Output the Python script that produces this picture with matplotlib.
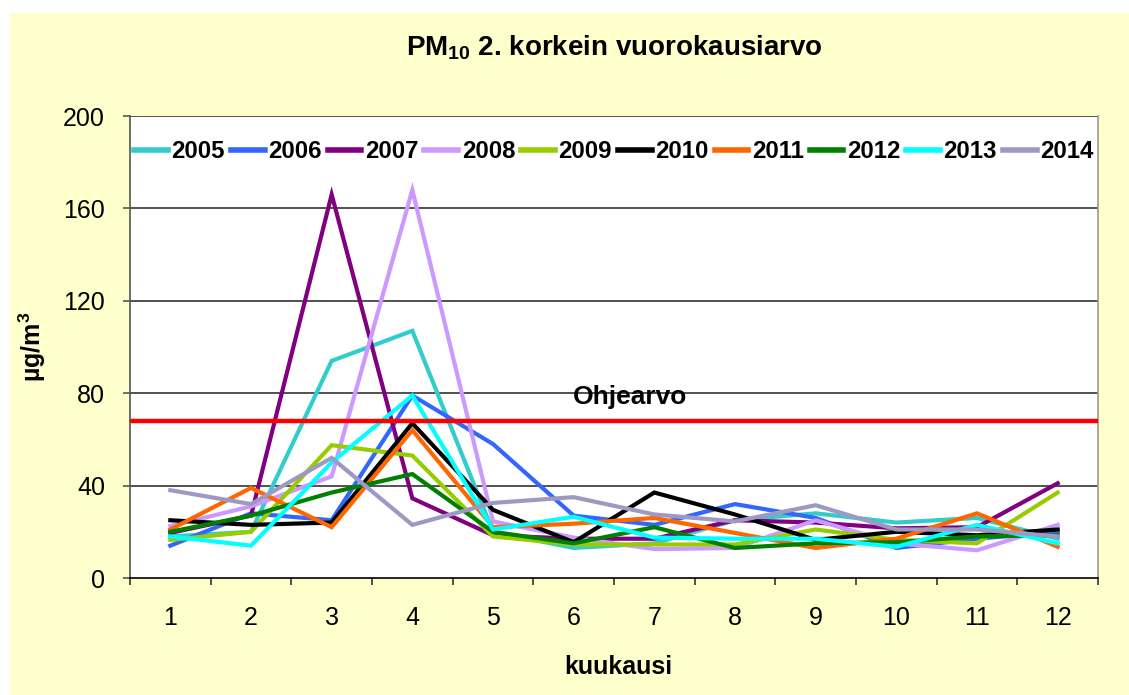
import matplotlib
matplotlib.use("Agg")
import matplotlib.pyplot as plt
from matplotlib.patches import Rectangle

plt.rcParams['font.family'] = ['Liberation Sans', 'DejaVu Sans']
plt.rcParams['mathtext.fontset'] = 'custom'
plt.rcParams['mathtext.rm'] = 'Liberation Sans:bold'
plt.rcParams['mathtext.bf'] = 'Liberation Sans:bold'
plt.rcParams['mathtext.it'] = 'Liberation Sans:bold'

months = [1, 2, 3, 4, 5, 6, 7, 8, 9, 10, 11, 12]
years = ["2005", "2006", "2007", "2008", "2009", "2010", "2011", "2012", "2013", "2014"]

v2005 = [18, 20, 94, 107, 20, 13, 15, 25, 28, 24, 26, 17]
v2006 = [14, 28, 25, 79, 58, 27, 23, 32, 26, 13, 17, 20]
v2007 = [19.5, 27, 166, 34.5, 18.5, 17, 17, 25, 24, 21.5, 22, 41]
v2008 = [22.5, 31, 44, 168, 24.5, 17.5, 12.5, 13, 25, 15, 12, 23]
v2009 = [16.5, 20, 57.5, 53, 18, 14.5, 14.5, 14.5, 21, 16.5, 15, 37]
v2010 = [25, 23, 24, 67, 29.5, 15.5, 37, 27.5, 16.5, 20, 18.5, 21]
v2011 = [21, 39, 22, 64, 22, 23.5, 26, 19.5, 13, 17, 28, 13.5]
v2012 = [20, 27, 37, 45, 20, 15, 22, 13, 15, 15.5, 18, 18.5]
v2013 = [18, 14, 50, 79, 21, 26.5, 17.5, 17, 17, 13.5, 23, 15]
v2014 = [38, 32, 52, 23, 32.5, 35, 27.5, 24.5, 31.5, 21, 21, 18]
series = [v2005, v2006, v2007, v2008, v2009, v2010, v2011, v2012, v2013, v2014]
colors = ["#33CCCC", "#3366FF", "#800080", "#CC99FF", "#99CC00",
          "#000000", "#FF6600", "#008000", "#00FFFF", "#9D99C2"]
ohjearvo = 68
yticks = [0, 40, 80, 120, 160, 200]

W, H = 1129, 695
fig = plt.figure(figsize=(W / 100, H / 100), dpi=100, facecolor="white")
fig.patches.append(Rectangle((10 / W, 0), 1 - 10 / W, 1 - 13 / H,
                             transform=fig.transFigure, facecolor="#FFFFCC",
                             edgecolor="none", zorder=-5))

left, right, top, bottom = 130, 1098, 116, 578
ax = fig.add_axes([left / W, 1 - bottom / H, (right - left) / W, (bottom - top) / H])
ax.set_zorder(1)
ax.set_facecolor("white")

for vals, c, lab in zip(series, colors, years):
    ax.plot(months, vals, color=c, lw=3.0, label=lab, solid_joinstyle="miter", zorder=3)

ax.axhline(ohjearvo, color="#FF0000", lw=3.2, zorder=4)
ax.text(6.7, 78.4, "Ohjearvo", fontsize=19, fontweight="bold", ha="center", va="center", zorder=5)

ax.set_xlim(0.5, 12.5)
ax.set_ylim(0, 200)
ax.set_yticks(yticks)
ax.set_xticks(months)
ax.set_xticks([m + 0.5 for m in [0] + months], minor=True)
ax.tick_params(axis="x", which="major", length=0, pad=20, labelsize=18)
ax.tick_params(axis="x", which="minor", length=5, width=1.2, color="#333333", direction="out")
ax.tick_params(axis="y", which="major", length=5, width=1.2, color="#555555", pad=13, labelsize=18)
for y in yticks[1:]:
    ax.axhline(y, color="#222222", lw=1.1, zorder=1)

ax.spines["top"].set_visible(False)
ax.spines["right"].set_color("#999999")
ax.spines["right"].set_linewidth(1.2)
ax.spines["left"].set_color("#555555")
ax.spines["left"].set_linewidth(1.2)
ax.spines["bottom"].set_color("#000000")
ax.spines["bottom"].set_linewidth(1.2)

leg = ax.legend(loc="center", bbox_to_anchor=(0.5, (578 - 152) / 462), ncol=10,
                frameon=False, fontsize=17.3, handlelength=1.4, handletextpad=0.15,
                columnspacing=0.25, borderaxespad=0, borderpad=0)
for t in leg.get_texts():
    t.set_fontweight("bold")
for l in leg.get_lines():
    l.set_linewidth(4)

fig.text(614 / W, 1 - 48 / H, r"PM$_{10}$ 2. korkein vuorokausiarvo", fontsize=20,
         fontweight="bold", ha="center", va="center")
fig.text(618 / W, 1 - 667 / H, "kuukausi", fontsize=18, fontweight="bold",
         ha="center", va="center")
fig.text(32 / W, 1 - 347 / H, r"µg/m$^{3}$", fontsize=18, fontweight="bold",
         ha="center", va="center", rotation=90)

fig.savefig("out.png", dpi=100, facecolor="white")
